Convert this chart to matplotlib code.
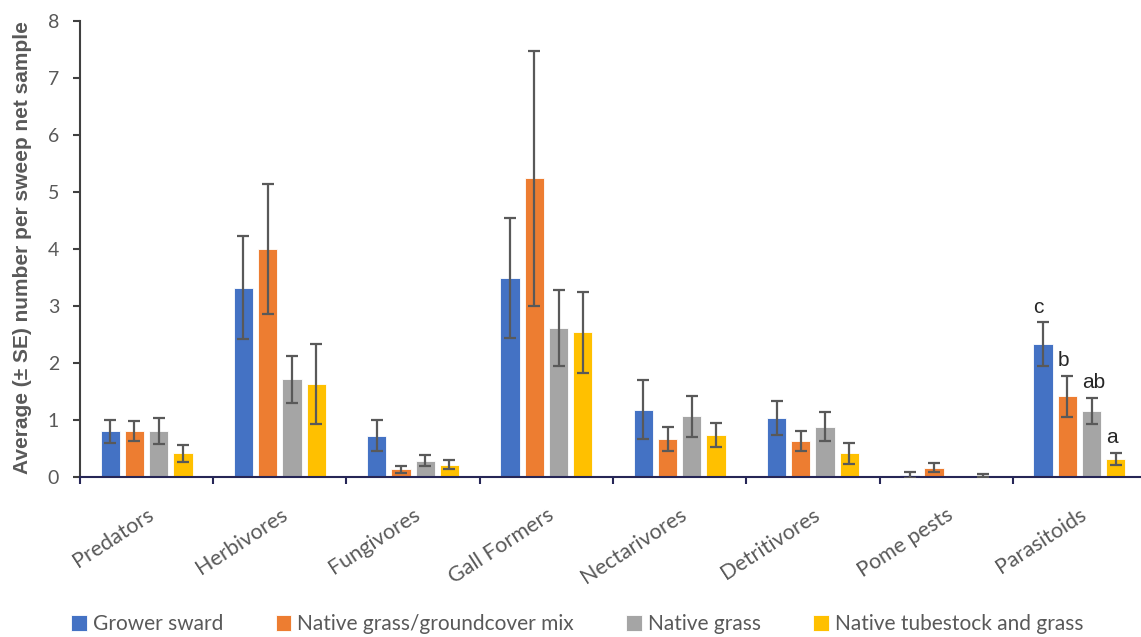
import matplotlib.pyplot as plt
import numpy as np

# Mean counts per sweep net sample and their standard errors
groups = ['Predators', 'Herbivores', 'Fungivores', 'Gall Formers',
          'Nectarivores', 'Detritivores', 'Pome pests', 'Parasitoids']
treatments = ['Grower sward', 'Native grass/groundcover mix',
              'Native grass', 'Native tubestock and grass']

grower_sward = [0.80, 3.32, 0.72, 3.49, 1.18, 1.03, 0.03, 2.33]
native_mix = [0.80, 4.00, 0.13, 5.24, 0.66, 0.63, 0.16, 1.41]
native_grass = [0.80, 1.71, 0.28, 2.61, 1.06, 0.88, 0.01, 1.16]
native_tubestock = [0.41, 1.63, 0.21, 2.54, 0.73, 0.41, 0.02, 0.31]

se_grower = [0.20, 0.90, 0.27, 1.05, 0.52, 0.30, 0.05, 0.38]
se_mix = [0.18, 1.14, 0.06, 2.24, 0.21, 0.18, 0.085, 0.36]
se_grass = [0.23, 0.41, 0.10, 0.67, 0.36, 0.255, 0.0, 0.23]
se_tube = [0.15, 0.70, 0.08, 0.71, 0.21, 0.18, 0.02, 0.11]

# significance letters for parasitoids
parasitoid_letters = ['c', 'b', 'ab', 'a']

means = [grower_sward, native_mix, native_grass, native_tubestock]
errors = [se_grower, se_mix, se_grass, se_tube]
colors = ['#4472C4', '#ED7D31', '#A5A5A5', '#FFC000']

fig = plt.figure(figsize=(11.41, 6.37), dpi=100)
ax = fig.add_axes([0.0701, 0.2516, 0.9343, 0.715])

x = np.arange(len(groups))
step = 0.182
width = 0.143
offsets = (np.arange(4) - 1.5) * step

for i in range(4):
    ax.bar(x + offsets[i], means[i], width, color=colors[i],
           edgecolor='white', linewidth=0.6, label=treatments[i], zorder=2)
    # no error bar where the SE is zero
    se = np.array(errors[i])
    keep = se > 0
    ax.errorbar((x + offsets[i])[keep], np.array(means[i])[keep],
                yerr=se[keep], fmt='none', ecolor='#595959', elinewidth=1.6,
                capsize=4, capthick=1.6, zorder=3)

# letters above the parasitoid bars
p = len(groups) - 1
for i in range(4):
    top = means[i][p] + errors[i][p]
    ax.text(x[p] + offsets[i] - width / 2, top + 0.1, parasitoid_letters[i],
            ha='left', va='bottom', fontsize=15, color='#262626',
            family='Liberation Sans')

ax.set_xlim(-0.5, len(groups) - 0.5)
ax.set_ylim(0, 8)
ax.set_yticks(range(0, 9))

ax.set_xticks(x)
ax.set_xticklabels(groups, rotation=33, ha='right', rotation_mode='anchor',
                   fontsize=15.5, color='#595959', family='Lato')
ax.set_xticks(np.arange(-0.5, len(groups)), minor=True)
ax.tick_params(axis='x', which='major', length=0, pad=20)
ax.tick_params(axis='x', which='minor', length=5, width=1.5,
               color='#262656', direction='out')
ax.tick_params(axis='y', length=5, width=1.5, color='#404040',
               labelsize=14, labelcolor='#595959', pad=10)
for lbl in ax.get_yticklabels():
    lbl.set_family('Lato')

for side in ['top', 'right']:
    ax.spines[side].set_visible(False)
ax.spines['left'].set_color('#404040')
ax.spines['left'].set_linewidth(1.5)
ax.spines['bottom'].set_color('#262656')
ax.spines['bottom'].set_linewidth(1.5)

fig.text(0.02, 1 - 248 / 637, 'Average (± SE) number per sweep net sample',
         rotation=90, ha='center', va='center', fontsize=15,
         fontweight='bold', color='#595959', family='Liberation Sans')

leg = fig.legend(loc='center', bbox_to_anchor=(0.506, 0.02), ncol=4,
                 frameon=False, handlelength=0.75, handleheight=0.75,
                 handletextpad=0.3, columnspacing=2.5,
                 prop={'family': 'Lato', 'size': 15})
for t in leg.get_texts():
    t.set_color('#595959')

fig.savefig('out.png', dpi=100)
